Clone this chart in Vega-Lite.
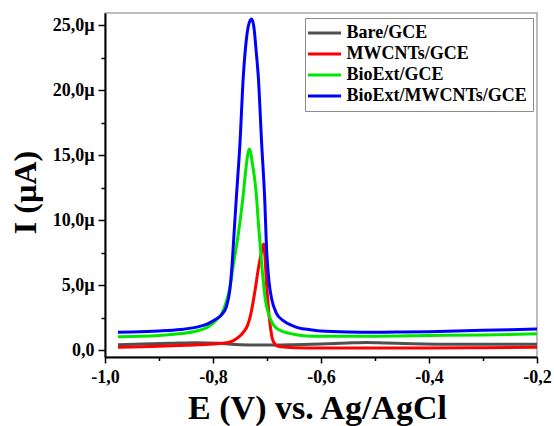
{
  "$schema": "https://vega.github.io/schema/vega-lite/v6.json",
  "width": 432,
  "height": 344,
  "autosize": {"type": "none"},
  "padding": {"left": 105, "top": 13, "right": 17, "bottom": 69},
  "background": "white",
  "config": {
    "view": {"stroke": "#a8a8a8", "strokeWidth": 1.5},
    "font": "Liberation Serif"
  },
  "data": {
    "values": [
      {"s": "Bare/GCE", "E": -0.976, "I": 0.45},
      {"s": "Bare/GCE", "E": -0.93, "I": 0.5},
      {"s": "Bare/GCE", "E": -0.88, "I": 0.55},
      {"s": "Bare/GCE", "E": -0.83, "I": 0.6},
      {"s": "Bare/GCE", "E": -0.79, "I": 0.55},
      {"s": "Bare/GCE", "E": -0.75, "I": 0.45},
      {"s": "Bare/GCE", "E": -0.7, "I": 0.42},
      {"s": "Bare/GCE", "E": -0.65, "I": 0.45},
      {"s": "Bare/GCE", "E": -0.6, "I": 0.5},
      {"s": "Bare/GCE", "E": -0.55, "I": 0.58},
      {"s": "Bare/GCE", "E": -0.515, "I": 0.62},
      {"s": "Bare/GCE", "E": -0.48, "I": 0.58},
      {"s": "Bare/GCE", "E": -0.43, "I": 0.52},
      {"s": "Bare/GCE", "E": -0.35, "I": 0.48},
      {"s": "Bare/GCE", "E": -0.2, "I": 0.48},

      {"s": "MWCNTs/GCE", "E": -0.976, "I": 0.25},
      {"s": "MWCNTs/GCE", "E": -0.95, "I": 0.27},
      {"s": "MWCNTs/GCE", "E": -0.9, "I": 0.32},
      {"s": "MWCNTs/GCE", "E": -0.85, "I": 0.4},
      {"s": "MWCNTs/GCE", "E": -0.8, "I": 0.5},
      {"s": "MWCNTs/GCE", "E": -0.775, "I": 0.6},
      {"s": "MWCNTs/GCE", "E": -0.762, "I": 0.76},
      {"s": "MWCNTs/GCE", "E": -0.756, "I": 0.92},
      {"s": "MWCNTs/GCE", "E": -0.748, "I": 1.2},
      {"s": "MWCNTs/GCE", "E": -0.742, "I": 1.5},
      {"s": "MWCNTs/GCE", "E": -0.738, "I": 1.75},
      {"s": "MWCNTs/GCE", "E": -0.73, "I": 2.8},
      {"s": "MWCNTs/GCE", "E": -0.725, "I": 3.9},
      {"s": "MWCNTs/GCE", "E": -0.72, "I": 5.2},
      {"s": "MWCNTs/GCE", "E": -0.716, "I": 6.3},
      {"s": "MWCNTs/GCE", "E": -0.71, "I": 7.6},
      {"s": "MWCNTs/GCE", "E": -0.7065, "I": 8.2},
      {"s": "MWCNTs/GCE", "E": -0.704, "I": 7.4},
      {"s": "MWCNTs/GCE", "E": -0.701, "I": 5.2},
      {"s": "MWCNTs/GCE", "E": -0.698, "I": 3.6},
      {"s": "MWCNTs/GCE", "E": -0.696, "I": 2.6},
      {"s": "MWCNTs/GCE", "E": -0.693, "I": 1.6},
      {"s": "MWCNTs/GCE", "E": -0.691, "I": 1.06},
      {"s": "MWCNTs/GCE", "E": -0.687, "I": 0.6},
      {"s": "MWCNTs/GCE", "E": -0.683, "I": 0.4},
      {"s": "MWCNTs/GCE", "E": -0.675, "I": 0.28},
      {"s": "MWCNTs/GCE", "E": -0.65, "I": 0.22},
      {"s": "MWCNTs/GCE", "E": -0.6, "I": 0.2},
      {"s": "MWCNTs/GCE", "E": -0.5, "I": 0.2},
      {"s": "MWCNTs/GCE", "E": -0.4, "I": 0.2},
      {"s": "MWCNTs/GCE", "E": -0.3, "I": 0.22},
      {"s": "MWCNTs/GCE", "E": -0.2, "I": 0.25},

      {"s": "BioExt/GCE", "E": -0.976, "I": 1.05},
      {"s": "BioExt/GCE", "E": -0.95, "I": 1.08},
      {"s": "BioExt/GCE", "E": -0.9, "I": 1.15},
      {"s": "BioExt/GCE", "E": -0.86, "I": 1.3},
      {"s": "BioExt/GCE", "E": -0.83, "I": 1.5},
      {"s": "BioExt/GCE", "E": -0.81, "I": 1.8},
      {"s": "BioExt/GCE", "E": -0.795, "I": 2.3},
      {"s": "BioExt/GCE", "E": -0.783, "I": 2.9},
      {"s": "BioExt/GCE", "E": -0.775, "I": 3.8},
      {"s": "BioExt/GCE", "E": -0.768, "I": 5.0},
      {"s": "BioExt/GCE", "E": -0.763, "I": 6.4},
      {"s": "BioExt/GCE", "E": -0.753, "I": 9.0},
      {"s": "BioExt/GCE", "E": -0.745, "I": 11.6},
      {"s": "BioExt/GCE", "E": -0.739, "I": 14.0},
      {"s": "BioExt/GCE", "E": -0.736, "I": 15.0},
      {"s": "BioExt/GCE", "E": -0.733, "I": 15.5},
      {"s": "BioExt/GCE", "E": -0.7305, "I": 15.3},
      {"s": "BioExt/GCE", "E": -0.7275, "I": 14.5},
      {"s": "BioExt/GCE", "E": -0.722, "I": 12.9},
      {"s": "BioExt/GCE", "E": -0.719, "I": 11.6},
      {"s": "BioExt/GCE", "E": -0.716, "I": 9.8},
      {"s": "BioExt/GCE", "E": -0.713, "I": 8.3},
      {"s": "BioExt/GCE", "E": -0.708, "I": 5.8},
      {"s": "BioExt/GCE", "E": -0.703, "I": 3.9},
      {"s": "BioExt/GCE", "E": -0.697, "I": 2.8},
      {"s": "BioExt/GCE", "E": -0.69, "I": 2.1},
      {"s": "BioExt/GCE", "E": -0.682, "I": 1.7},
      {"s": "BioExt/GCE", "E": -0.67, "I": 1.45},
      {"s": "BioExt/GCE", "E": -0.65, "I": 1.25},
      {"s": "BioExt/GCE", "E": -0.627, "I": 1.12},
      {"s": "BioExt/GCE", "E": -0.6, "I": 1.1},
      {"s": "BioExt/GCE", "E": -0.5, "I": 1.1},
      {"s": "BioExt/GCE", "E": -0.4, "I": 1.15},
      {"s": "BioExt/GCE", "E": -0.3, "I": 1.2},
      {"s": "BioExt/GCE", "E": -0.2, "I": 1.28},

      {"s": "BioExt/MWCNTs/GCE", "E": -0.976, "I": 1.4},
      {"s": "BioExt/MWCNTs/GCE", "E": -0.95, "I": 1.42},
      {"s": "BioExt/MWCNTs/GCE", "E": -0.9, "I": 1.5},
      {"s": "BioExt/MWCNTs/GCE", "E": -0.86, "I": 1.62},
      {"s": "BioExt/MWCNTs/GCE", "E": -0.83, "I": 1.8},
      {"s": "BioExt/MWCNTs/GCE", "E": -0.81, "I": 2.05},
      {"s": "BioExt/MWCNTs/GCE", "E": -0.795, "I": 2.4},
      {"s": "BioExt/MWCNTs/GCE", "E": -0.783, "I": 2.8},
      {"s": "BioExt/MWCNTs/GCE", "E": -0.775, "I": 3.4},
      {"s": "BioExt/MWCNTs/GCE", "E": -0.769, "I": 4.6},
      {"s": "BioExt/MWCNTs/GCE", "E": -0.765, "I": 6.4},
      {"s": "BioExt/MWCNTs/GCE", "E": -0.761, "I": 9.0},
      {"s": "BioExt/MWCNTs/GCE", "E": -0.757, "I": 11.6},
      {"s": "BioExt/MWCNTs/GCE", "E": -0.75, "I": 16.0},
      {"s": "BioExt/MWCNTs/GCE", "E": -0.744, "I": 21.0},
      {"s": "BioExt/MWCNTs/GCE", "E": -0.738, "I": 24.0},
      {"s": "BioExt/MWCNTs/GCE", "E": -0.733, "I": 25.2},
      {"s": "BioExt/MWCNTs/GCE", "E": -0.7284, "I": 25.5},
      {"s": "BioExt/MWCNTs/GCE", "E": -0.724, "I": 24.8},
      {"s": "BioExt/MWCNTs/GCE", "E": -0.72, "I": 23.0},
      {"s": "BioExt/MWCNTs/GCE", "E": -0.716, "I": 21.0},
      {"s": "BioExt/MWCNTs/GCE", "E": -0.71, "I": 16.0},
      {"s": "BioExt/MWCNTs/GCE", "E": -0.704, "I": 11.4},
      {"s": "BioExt/MWCNTs/GCE", "E": -0.701, "I": 8.0},
      {"s": "BioExt/MWCNTs/GCE", "E": -0.696, "I": 5.2},
      {"s": "BioExt/MWCNTs/GCE", "E": -0.691, "I": 3.9},
      {"s": "BioExt/MWCNTs/GCE", "E": -0.683, "I": 2.9},
      {"s": "BioExt/MWCNTs/GCE", "E": -0.67, "I": 2.3},
      {"s": "BioExt/MWCNTs/GCE", "E": -0.655, "I": 1.95},
      {"s": "BioExt/MWCNTs/GCE", "E": -0.64, "I": 1.72},
      {"s": "BioExt/MWCNTs/GCE", "E": -0.62, "I": 1.6},
      {"s": "BioExt/MWCNTs/GCE", "E": -0.6, "I": 1.5},
      {"s": "BioExt/MWCNTs/GCE", "E": -0.55, "I": 1.42},
      {"s": "BioExt/MWCNTs/GCE", "E": -0.5, "I": 1.4},
      {"s": "BioExt/MWCNTs/GCE", "E": -0.45, "I": 1.42},
      {"s": "BioExt/MWCNTs/GCE", "E": -0.4, "I": 1.45},
      {"s": "BioExt/MWCNTs/GCE", "E": -0.35, "I": 1.5},
      {"s": "BioExt/MWCNTs/GCE", "E": -0.3, "I": 1.55},
      {"s": "BioExt/MWCNTs/GCE", "E": -0.25, "I": 1.6},
      {"s": "BioExt/MWCNTs/GCE", "E": -0.2, "I": 1.65}
    ]
  },
  "mark": {"type": "line", "strokeWidth": 3, "interpolate": "monotone", "clip": true},
  "encoding": {
    "x": {
      "field": "E", "type": "quantitative",
      "scale": {"domain": [-1.0, -0.2], "nice": false, "zero": false},
      "axis": {
        "values": [-1.0, -0.9, -0.8, -0.7, -0.6, -0.5, -0.4, -0.3, -0.2],
        "labelExpr": "abs(round(datum.value*10)) % 2 == 0 ? replace(replace(format(datum.value, '.1f'), '.', ','), '\u2212', '-') : ''",
        "labelOverlap": false,
        "labelFlush": false,
        "grid": false,
        "domainColor": "black", "domainWidth": 2,
        "tickColor": "black", "tickWidth": 1.5,
        "tickSize": {"condition": {"test": "abs(round(datum.value*10)) % 2 == 0", "value": 6}, "value": 3.5},
        "labelFont": "Liberation Serif", "labelFontWeight": "bold", "labelFontSize": 18, "labelColor": "black",
        "labelPadding": 5,
        "title": "E (V) vs. Ag/AgCl",
        "titleFont": "Liberation Serif", "titleFontWeight": "bold", "titleFontSize": 34, "titleColor": "black",
        "titleX": 212, "titleY": 61, "titleAlign": "center", "titleBaseline": "alphabetic"
      }
    },
    "y": {
      "field": "I", "type": "quantitative",
      "scale": {"domain": [-0.5, 25.96], "nice": false, "zero": false},
      "axis": {
        "values": [0, 2.5, 5, 7.5, 10, 12.5, 15, 17.5, 20, 22.5, 25],
        "labelExpr": "datum.value % 5 != 0 ? '' : (datum.value == 0 ? '0,0' : replace(format(datum.value, '.1f'), '.', ',') + 'µ')",
        "labelOverlap": false,
        "grid": false,
        "domainColor": "black", "domainWidth": 2,
        "tickColor": "black", "tickWidth": 1.5,
        "tickSize": {"condition": {"test": "datum.value % 5 == 0", "value": 7}, "value": 4},
        "labelFont": "Liberation Serif", "labelFontWeight": "bold", "labelFontSize": 18, "labelColor": "black",
        "labelPadding": 4,
        "title": "I (µA)",
        "titleFont": "Liberation Serif", "titleFontWeight": "bold", "titleFontSize": 32, "titleColor": "black",
        "titleX": -70, "titleY": 179, "titleAlign": "center", "titleBaseline": "alphabetic", "titleAngle": -90
      }
    },
    "color": {
      "field": "s", "type": "nominal",
      "scale": {
        "domain": ["Bare/GCE", "MWCNTs/GCE", "BioExt/GCE", "BioExt/MWCNTs/GCE"],
        "range": ["#505050", "#ff0000", "#00e600", "#0000ff"]
      },
      "legend": {
        "orient": "none", "legendX": 200, "legendY": 5,
        "title": null,
        "fillColor": "white", "strokeColor": "#8c8c8c",
        "padding": 6,
        "symbolType": "M-3,0H3", "symbolStrokeWidth": 3, "symbolSize": 121,
        "symbolOffset": 4.5,
        "rowPadding": 3,
        "labelOffset": 13,
        "labelFont": "Liberation Serif", "labelFontWeight": "bold", "labelFontSize": 18, "labelColor": "black",
        "labelLimit": 300
      }
    }
  }
}
